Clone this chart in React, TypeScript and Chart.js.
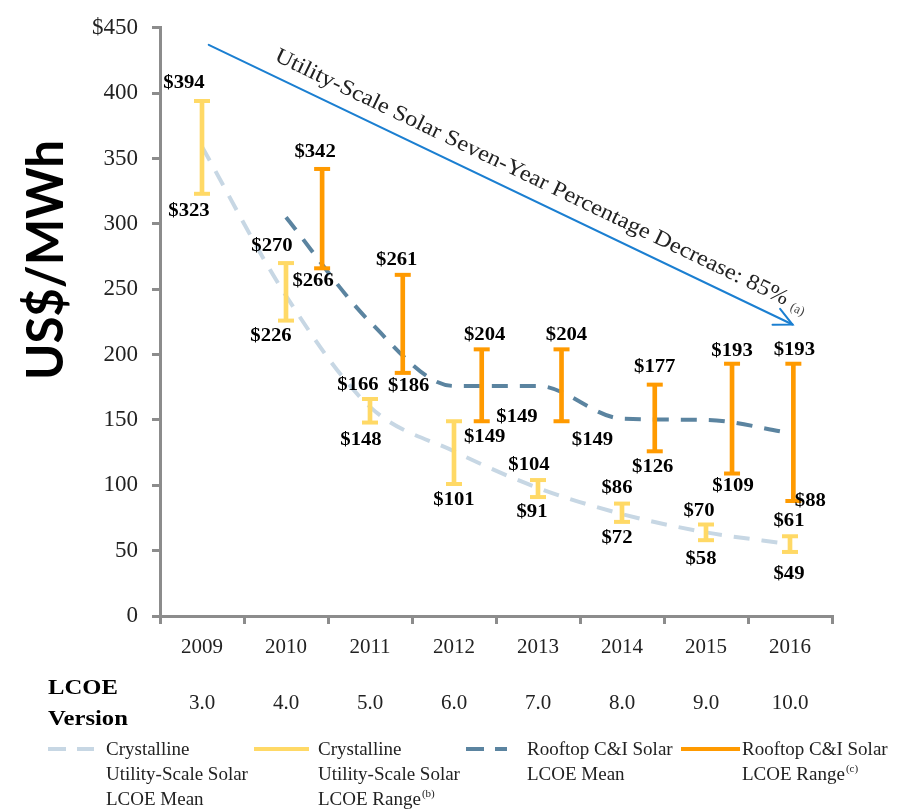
import React, { useEffect, useRef } from 'react';
import { Chart, registerables } from 'chart.js';

Chart.register(...registerables);

// ---------------- data ----------------
const years = ['2009', '2010', '2011', '2012', '2013', '2014', '2015', '2016'];
const lcoeVersions = ['3.0', '4.0', '5.0', '6.0', '7.0', '8.0', '9.0', '10.0'];
const crystallineLow = [323, 226, 148, 101, 91, 72, 58, 49];
const crystallineHigh = [394, 270, 166, 149, 104, 86, 70, 61];
const crystallineMean = [359, 245, 160, 126, 98, 78, 64, 55];
const rooftopLow = [null, 266, 186, 149, 149, 126, 109, 88];
const rooftopHigh = [null, 342, 261, 204, 204, 177, 193, 193];
const rooftopMean = [null, 305, 225, 176, 176, 151, 150, 140];
const yMin = 0;
const yMax = 450;
const yStep = 50;
const arrowStart = { x: 0.08, y: 437 };
const arrowEnd = { x: 7.03, y: 223 };
const annotationText = 'Utility-Scale Solar Seven-Year Percentage Decrease: 85%';

// ---------------- layout / style ----------------
const SERIF = '"Liberation Serif", "Times New Roman", serif';
const C_YELLOW = '#ffd966';
const C_ORANGE = '#ff9a00';
const C_LIGHT = '#c7d7e4';
const C_DARK = '#5b84a0';
const C_AXIS = '#8c8c8c';
const C_BLUE = '#1b7fd1';

// horizontal shift of the rooftop range bar inside each year slot (fraction of slot)
const rooftopShift = [0, 0.43, 0.39, 0.33, 0.28, 0.39, 0.31, 0.04];

// value-label nudges (px)
const nudges: Record<string, { tdx: number[]; tdy: number[]; bdx: number[]; bdy: number[] }> = {
  crystalline: {
    tdx: [-18, -14, -12, 63, -9, -5, -7, -1],
    tdy: [18, 17, 14, 4, 15, 15, 13, 15],
    bdx: [-13, -15, -9, 0, -6, -5, -5, -1],
    bdy: [18, 16, 18, 16, 15, 16, 19, 22],
  },
  rooftop: {
    tdx: [0, -7, -6, 3, 5, 0, 0, 1],
    tdy: [0, 17, 15, 14, 14, 17, 12, 13],
    bdx: [0, -9, 6, 3, 31, -2, 1, 17],
    bdy: [0, 13, 13, 16, 19, 16, 13, 0],
  },
};

function drawText(
  ctx: CanvasRenderingContext2D,
  text: string,
  x: number,
  y: number,
  font: string,
  color: string,
  align: CanvasTextAlign = 'center',
  sx = 1,
  baseline: CanvasTextBaseline = 'middle'
) {
  ctx.save();
  ctx.font = font;
  ctx.fillStyle = color;
  ctx.textAlign = align;
  ctx.textBaseline = baseline;
  ctx.translate(x, y);
  ctx.scale(sx, 1);
  ctx.fillText(text, 0, 0);
  ctx.restore();
}

const legendItems = [
  { dash: true, color: C_LIGHT, x0: 48, x1: 94, tx: 106, lines: ['Crystalline', 'Utility-Scale Solar', 'LCOE Mean'], sup: '' },
  { dash: false, color: C_YELLOW, x0: 254, x1: 309, tx: 318, lines: ['Crystalline', 'Utility-Scale Solar', 'LCOE Range'], sup: '(b)' },
  { dash: true, color: C_DARK, x0: 466, x1: 507, tx: 527, lines: ['Rooftop C&I Solar', 'LCOE Mean'], sup: '' },
  { dash: false, color: C_ORANGE, x0: 681, x1: 740, tx: 742, lines: ['Rooftop C&I Solar', 'LCOE Range'], sup: '(c)' },
];

const overlayPlugin = {
  id: 'overlay',
  afterDatasetsDraw(chart: any) {
    const ctx: CanvasRenderingContext2D = chart.ctx;
    chart.data.datasets.forEach((ds: any, di: number) => {
      if (ds.type !== 'bar') return;
      const meta = chart.getDatasetMeta(di);
      const nd = nudges[ds.key];
      meta.data.forEach((el: any, j: number) => {
        const raw = ds.data[j];
        const i = raw.i;
        const { x, y, base } = el.getProps(['x', 'y', 'base'], true);
        const top = Math.min(y, base);
        const bot = Math.max(y, base);
        ctx.save();
        ctx.strokeStyle = ds.backgroundColor;
        ctx.lineWidth = 4;
        [top, bot].forEach((py) => {
          ctx.beginPath();
          ctx.moveTo(x - 8, py);
          ctx.lineTo(x + 8, py);
          ctx.stroke();
        });
        ctx.restore();
        const f = `bold 18px ${SERIF}`;
        drawText(ctx, '$' + raw.y[1], x + nd.tdx[i], top - nd.tdy[i], f, '#000', 'center', 1.15);
        drawText(ctx, '$' + raw.y[0], x + nd.bdx[i], bot + nd.bdy[i], f, '#000', 'center', 1.15);
      });
    });
  },
  afterDraw(chart: any) {
    const ctx: CanvasRenderingContext2D = chart.ctx;
    const xs = chart.scales.x;
    const ys = chart.scales.y;

    // Arrow annotation
    const p0 = { x: xs.getPixelForValue(arrowStart.x), y: ys.getPixelForValue(arrowStart.y) };
    const p1 = { x: xs.getPixelForValue(arrowEnd.x), y: ys.getPixelForValue(arrowEnd.y) };
    const ang = Math.atan2(p1.y - p0.y, p1.x - p0.x);
    ctx.save();
    ctx.strokeStyle = C_BLUE;
    ctx.lineWidth = 2;
    ctx.lineCap = 'round';
    ctx.beginPath();
    ctx.moveTo(p0.x, p0.y);
    ctx.lineTo(p1.x, p1.y);
    ctx.stroke();
    const wing = 20;
    const spread = (26 * Math.PI) / 180;
    ctx.beginPath();
    ctx.moveTo(p1.x - wing * Math.cos(ang - spread), p1.y - wing * Math.sin(ang - spread));
    ctx.lineTo(p1.x, p1.y);
    ctx.lineTo(p1.x - wing * Math.cos(ang + spread), p1.y - wing * Math.sin(ang + spread));
    ctx.stroke();
    ctx.restore();

    ctx.save();
    ctx.translate(p0.x, p0.y);
    ctx.rotate(ang);
    ctx.font = `22px ${SERIF}`;
    const w = ctx.measureText(annotationText).width;
    const target = 567;
    const sx = target / w;
    ctx.translate(65, -14);
    ctx.save();
    ctx.scale(sx, 1);
    ctx.fillStyle = '#222';
    ctx.textBaseline = 'alphabetic';
    ctx.textAlign = 'left';
    ctx.fillText(annotationText, 0, 0);
    ctx.restore();
    ctx.font = `13px ${SERIF}`;
    ctx.fillStyle = '#444';
    ctx.textBaseline = 'alphabetic';
    ctx.fillText('(a)', target + 6, 2);
    ctx.restore();

    // Y axis title
    ctx.save();
    ctx.translate(63, 260);
    ctx.rotate(-Math.PI / 2);
    ctx.font = `bold 52px Lato, "Open Sans", sans-serif`;
    const tw = ctx.measureText('US$/MWh').width;
    ctx.scale(240 / tw, 1);
    ctx.fillStyle = '#000';
    ctx.textAlign = 'center';
    ctx.textBaseline = 'alphabetic';
    ctx.fillText('US$/MWh', 0, 0);
    ctx.restore();

    // LCOE Version label
    drawText(ctx, 'LCOE', 48, 688, `bold 22px ${SERIF}`, '#000', 'left', 1.12);
    drawText(ctx, 'Version', 48, 719, `bold 22px ${SERIF}`, '#000', 'left', 1.12);

    // Legend
    const ly = 749;
    legendItems.forEach((it) => {
      ctx.save();
      ctx.strokeStyle = it.color;
      ctx.lineWidth = 4;
      if (it.dash) ctx.setLineDash([18, 11]);
      ctx.beginPath();
      ctx.moveTo(it.x0, ly);
      ctx.lineTo(it.x1, ly);
      ctx.stroke();
      ctx.restore();
      it.lines.forEach((ln, k) => {
        const yy = 750 + k * 25;
        drawText(ctx, ln, it.tx, yy, `19px ${SERIF}`, '#222', 'left');
        if (it.sup && k === it.lines.length - 1) {
          ctx.save();
          ctx.font = `19px ${SERIF}`;
          const lw = ctx.measureText(ln).width;
          ctx.restore();
          drawText(ctx, it.sup, it.tx + lw + 1, yy - 6, `11px ${SERIF}`, '#222', 'left');
        }
      });
    });
  },
};

export default function App() {
  const ref = useRef<HTMLCanvasElement | null>(null);

  useEffect(() => {
    if (!ref.current) return;
    const crystallineRange = years.map((_, i) => ({ x: i, y: [crystallineLow[i], crystallineHigh[i]], i }));
    const rooftopRange = years
      .map((_, i) => ({ i }))
      .filter(({ i }) => rooftopLow[i] !== null && rooftopHigh[i] !== null)
      .map(({ i }) => ({ x: i + rooftopShift[i], y: [rooftopLow[i] as number, rooftopHigh[i] as number], i }));
    const crystMeanPts = crystallineMean.map((v, i) => ({ x: i, y: v }));
    const roofMeanPts = rooftopMean
      .map((v, i) => ({ x: i, y: v }))
      .filter((p) => p.y !== null);

    const chart = new Chart(ref.current, {
      type: 'bar',
      data: {
        datasets: [
          {
            type: 'bar',
            key: 'rooftop',
            label: 'Rooftop C&I Solar LCOE Range',
            data: rooftopRange as any,
            backgroundColor: C_ORANGE,
            borderWidth: 0,
            barThickness: 4,
            maxBarThickness: 4,
            grouped: false,
            xAxisID: 'x',
            yAxisID: 'y',
          } as any,
          {
            type: 'bar',
            key: 'crystalline',
            label: 'Crystalline Utility-Scale Solar LCOE Range',
            data: crystallineRange as any,
            backgroundColor: C_YELLOW,
            borderWidth: 0,
            barThickness: 4,
            maxBarThickness: 4,
            grouped: false,
            xAxisID: 'x',
            yAxisID: 'y',
          } as any,
          {
            type: 'line',
            label: 'Rooftop C&I Solar LCOE Mean',
            data: roofMeanPts as any,
            borderColor: C_DARK,
            borderWidth: 4,
            borderDash: [16, 12],
            pointRadius: 0,
            cubicInterpolationMode: 'monotone',
            fill: false,
            xAxisID: 'x',
            yAxisID: 'y',
          } as any,
          {
            type: 'line',
            label: 'Crystalline Utility-Scale Solar LCOE Mean',
            data: crystMeanPts as any,
            borderColor: C_LIGHT,
            borderWidth: 4,
            borderDash: [16, 12],
            pointRadius: 0,
            cubicInterpolationMode: 'monotone',
            fill: false,
            xAxisID: 'x',
            yAxisID: 'y',
          } as any,
        ],
      },
      options: {
        responsive: false,
        animation: false,
        devicePixelRatio: 1,
        layout: { padding: { top: 22, right: 81, left: 0, bottom: 0 } },
        plugins: {
          legend: { display: false },
          tooltip: { enabled: false },
          title: { display: false },
        },
        scales: {
          x: {
            type: 'linear',
            display: false,
            min: -0.5,
            max: 7.5,
            offset: false,
            grid: { offset: false },
          },
          xc: {
            type: 'category',
            position: 'bottom',
            labels: years,
            offset: true,
            grid: {
              offset: true,
              drawOnChartArea: false,
              drawTicks: true,
              tickLength: 8,
              color: C_AXIS,
              lineWidth: 3,
            },
            border: { display: true, color: C_AXIS, width: 3 },
            ticks: {
              autoSkip: false,
              maxRotation: 0,
              padding: 10,
              color: '#222',
              font: { family: SERIF, size: 21, lineHeight: 1.33 },
              callback: (_v: any, i: number) => [years[i], '', lcoeVersions[i]],
            },
            afterFit: (s: any) => {
              s.height = 195;
            },
          },
          y: {
            type: 'linear',
            position: 'left',
            min: yMin,
            max: yMax,
            ticks: {
              stepSize: yStep,
              padding: 14,
              color: '#222',
              font: { family: SERIF, size: 23 },
              callback: (v: any) => (v === yMax ? '$' + v : String(v)),
            },
            grid: {
              drawOnChartArea: false,
              drawTicks: true,
              tickLength: 8,
              color: C_AXIS,
              lineWidth: 3,
            },
            border: { display: true, color: C_AXIS, width: 3 },
            afterFit: (s: any) => {
              s.width = 160;
            },
          },
        } as any,
      },
      plugins: [overlayPlugin],
    } as any);

    return () => chart.destroy();
  }, []);

  return (
    <div style={{ position: 'absolute', left: 0, top: 0, width: 913, height: 811, background: '#fff' }}>
      <canvas ref={ref} width={913} height={811} style={{ display: 'block' }} />
    </div>
  );
}
